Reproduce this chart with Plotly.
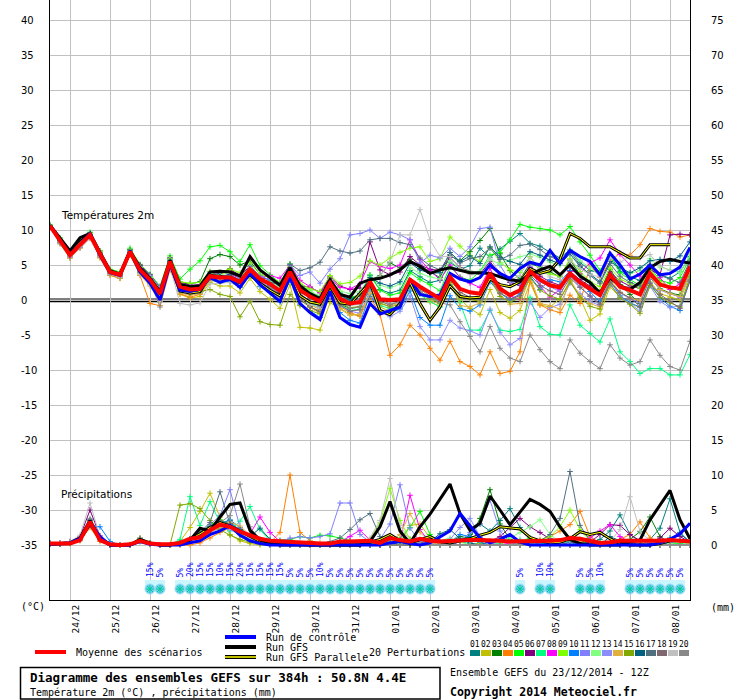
import pandas as pd
import plotly.graph_objects as go

# 6-hourly steps of the GEFS 23/12/2014 12Z run (0 .. 384h)
times = pd.date_range("2014-12-23 12:00", periods=65, freq="6h")

# --- 2m temperature (°C) ---
t_mean = [10.6, 8.5, 6.4, 7.9, 9.3, 6.6, 4.0, 3.6, 6.9, 4.3,
          2.9, 0.9, 5.5, 1.9, 1.5, 1.6, 3.4, 3.2, 3.2, 2.6,
          4.4, 3.0, 2.3, 1.3, 4.0, 1.4, 0.5, -0.2, 2.4, 0.2,
          -0.5, -0.3, 2.6, 0.1, 0.0, 0.1, 2.9, 1.9, 1.0, 0.2,
          3.3, 1.6, 1.1, 0.9, 3.8, 1.6, 0.7, 1.4, 4.1, 2.9,
          2.1, 1.8, 3.8, 2.5, 1.6, 0.7, 3.6, 1.9, 1.4, 0.8,
          3.8, 2.2, 1.8, 1.6, 4.8]
t_ctrl = [10.6, 8.6, 6.5, 8.0, 9.5, 6.4, 3.9, 3.5, 7.0, 4.0,
          2.4, 0.0, 5.2, 1.4, 1.2, 1.5, 3.2, 2.5, 3.0, 1.8,
          3.8, 2.2, 1.0, -0.2, 3.3, -0.5, -1.8, -2.8, 1.2, -2.5,
          -3.5, -3.9, -0.5, -2.0, -1.5, -1.0, 3.0, 0.8, 0.5, 0.7,
          3.8, 3.0, 2.6, 3.2, 5.0, 3.8, 3.1, 4.5, 5.4, 5.0,
          7.1, 5.2, 7.1, 6.2, 5.5, 3.6, 6.7, 5.0, 3.0, 3.7,
          5.0, 3.6, 3.8, 4.7, 7.5]
t_gfs = [10.7, 8.9, 7.0, 8.9, 9.5, 6.8, 4.2, 3.7, 7.0, 4.6,
         3.1, 1.2, 5.7, 2.2, 1.9, 2.0, 4.0, 4.1, 4.0, 3.4,
         6.2, 4.3, 3.2, 2.1, 4.6, 2.0, 0.9, 0.2, 2.9, 0.8,
         0.4, 2.4, 2.9, 3.1, 3.6, 4.3, 5.5, 4.8, 3.8, 4.3,
         4.6, 4.3, 3.9, 3.9, 3.8, 3.3, 2.9, 2.7, 3.6, 4.3,
         4.8, 3.6, 5.0, 3.4, 2.5, 1.0, 3.2, 2.0, 1.5, 2.5,
         4.6, 5.5, 5.8, 5.5, 5.3]
t_para = [10.6, 8.7, 6.6, 8.3, 9.4, 6.6, 4.0, 3.6, 6.9, 4.1,
          2.6, 0.5, 5.2, 1.3, 1.0, 1.2, 3.5, 3.4, 3.0, 2.5,
          3.6, 2.4, 1.4, 0.6, 3.8, 0.6, -0.3, -0.6, 2.0, -0.4,
          -0.6, 1.0, 2.5, -1.5, -2.1, -0.5, 2.5, -0.5, -2.9, -1.0,
          2.0, 0.5, 0.3, 0.4, 3.0, 2.2, 1.9, 2.6, 4.5, 3.8,
          4.2, 5.8, 9.5, 8.8, 7.6, 7.6, 7.6, 6.8, 6.0, 6.0,
          7.9, 7.9, 7.9, None, None]

t01 = [10.5, 8.4, 6.2, 7.6, 9.0, 6.3, 3.8, 3.4, 6.6, 4.6, 3.2, 1.5, 5.8, 2.4, 2.0, 2.2, 4.0, 3.8, 4.5, 3.3,
       4.9, 3.4, 2.8, 2.0, 4.5, 1.9, 1.0, 0.6, 3.1, 1.0, 0.3, 0.6, 3.5, 1.5, 1.0, 1.4, 4.2, 3.3, 2.5, 2.8,
       5.4, 4.4, 4.9, 7.4, 6.1, 7.3, 8.4, 9.5, 8.1, 7.7, 6.8, 6.0, 7.2, 5.4, 4.2, 3.9, 6.5, 4.1, 3.3, 2.8,
       5.1, 3.6, 3.1, 4.0, 6.2]
t02 = [10.4, 8.0, 6.0, 7.5, 9.1, 6.0, 3.6, 3.1, 6.4, 3.8, 2.2, 0.2, 4.7, 0.8, 0.3, 0.5, 2.5, 2.0, 2.0, 1.0,
       3.1, 1.2, 0.1, -1.2, 2.2, -3.9, -4.0, -4.3, -0.4, -1.2, -2.0, -2.3, 1.2, -1.0, -1.6, -1.2, 1.8, 0.9, -0.3, -0.9,
       2.0, 0.1, -1.2, -2.1, 1.5, -1.8, -2.6, -1.5, 2.5, -0.7, -1.0, 0.2, 2.8, 0.3, -2.9, -2.0, 1.9, 0.4, -0.5, -1.1,
       2.6, 0.9, 0.4, 0.0, 3.5]
t03 = [10.7, 8.7, 6.7, 8.3, 9.6, 7.0, 4.3, 3.8, 7.2, 4.9, 3.4, 1.4, 6.0, 2.5, 2.3, 2.6, 5.9, 6.5, 6.2, 5.0,
       5.6, 3.6, 1.9, 0.8, 3.3, 0.2, -0.9, -1.8, 1.6, -0.6, -1.2, -1.0, 2.8, 3.5, 5.3, 4.6, 5.8, 4.5, 4.0, 3.2,
       6.3, 5.6, 6.9, 8.5, 10.2, 6.6, 4.2, 3.0, 5.2, 4.7, 4.0, 3.3, 5.7, 3.7, 2.5, 1.2, 4.4, 2.2, 0.8, -0.5,
       3.2, 1.6, 1.0, 0.7, 4.0]
t04 = [10.3, 8.2, 6.0, 7.4, 8.8, 6.1, 3.5, 3.1, 6.5, 3.5, -0.5, -0.8, 4.3, 0.9, 0.4, 0.8, 2.9, 3.5, 4.4, 3.1,
       4.0, 2.4, 1.8, 0.8, 3.6, 1.1, -0.6, -1.4, 1.3, -0.9, -1.8, -2.3, 0.5, -2.1, -7.9, -6.4, -3.6, -5.0, -6.9, -8.6,
       -5.9, -8.8, -9.5, -10.7, -7.4, -10.5, -10.2, -7.4, 2.9, -0.7, -1.4, -1.8, 0.7, -0.5, 5.0, 3.2, 5.5, 6.7, 6.4, 7.9,
       10.2, 9.8, 9.7, 9.0, 9.3]
t05 = [10.8, 8.9, 6.9, 8.4, 9.7, 7.0, 4.4, 4.0, 7.4, 5.1, 3.7, 2.0, 6.3, 3.0, 4.4, 5.6, 7.6, 7.8, 6.9, 5.5,
       7.9, 4.9, 3.6, 2.4, 5.2, 2.2, 1.3, 0.4, 3.1, 0.9, 0.3, 0.8, 3.6, 1.4, 0.7, 1.0, 3.9, 2.9, 2.2, 1.3,
       4.8, 3.3, 2.8, 4.1, 6.4, 6.8, 8.6, 10.8, 10.4, 10.2, 10.0, 9.3, 10.5, 8.3, 6.4, 4.2, 6.2, 3.9, 2.9, 2.1,
       4.7, 2.8, 2.4, 3.2, 6.0]
t06 = [10.6, 8.6, 6.6, 8.1, 9.2, 6.7, 4.2, 3.8, 7.1, 5.0, 3.6, 1.8, 6.0, 2.6, 2.1, 2.2, 3.7, 3.9, 4.3, 3.6,
       4.8, 3.3, 2.9, 2.2, 4.6, 2.1, 1.8, 1.1, 3.3, 2.0, 1.5, 1.7, 8.3, 4.3, 3.6, 4.0, 6.2, 5.0, 4.4, 4.2,
       6.1, 4.6, 4.1, 3.7, 5.5, 3.6, 2.5, 2.1, 4.6, 3.4, 2.6, 2.1, 4.1, 2.9, 2.0, 0.9, 4.0, 2.7, 2.0, 1.7,
       4.3, 3.6, 9.3, 9.4, 9.3]
t07 = [10.5, 8.3, 6.3, 7.8, 9.1, 6.5, 3.9, 3.4, 6.8, 4.0, 2.6, 0.4, 5.0, 1.3, 1.0, 1.0, 2.8, 2.6, 2.8, 1.9,
       3.9, 2.4, 1.6, 0.4, 3.4, 0.6, -0.4, -1.2, 1.8, -0.6, -1.5, -1.3, 1.7, -0.8, -1.2, -0.9, 2.1, 0.8, -0.2, -1.0,
       2.2, -0.4, -4.3, -4.3, -1.5, -4.3, -4.5, -4.2, 0.4, -3.8, -4.9, -5.0, -0.7, -3.6, -4.8, -6.0, -2.7, -7.4, -8.8, -10.5,
       -9.8, -9.8, -10.7, -10.7, -7.8]
t08 = [10.6, 8.5, 6.5, 8.0, 9.4, 6.6, 4.1, 3.7, 7.0, 4.5, 3.1, 1.1, 5.6, 2.0, 1.6, 1.8, 3.5, 3.3, 3.7, 3.1,
       4.5, 3.2, 3.5, 3.1, 5.0, 2.8, 1.9, 1.0, 3.0, 1.8, 1.6, 2.3, 5.5, 4.8, 4.5, 5.0, 8.6, 5.8, 4.2, 2.9,
       5.0, 3.2, 2.4, 1.8, 4.5, 1.7, 0.6, 0.1, 4.6, 2.0, 0.4, 1.5, 4.2, 3.8, 5.3, 6.0, 8.6, 6.5, 5.0, 3.4,
       4.9, 3.2, 1.5, 2.3, 5.0]
t09 = [10.7, 8.8, 6.8, 8.2, 9.5, 6.8, 4.2, 3.9, 7.1, 4.7, 3.3, 1.6, 5.9, 2.6, 2.4, 2.5, 4.1, 4.0, 4.4, 3.9,
       5.3, 3.7, 3.2, 2.6, 4.8, 2.4, 1.6, 1.2, 3.5, 2.3, 2.5, 3.4, 5.6, 5.0, 6.0, 6.8, 7.4, 7.6, 5.5, 5.9,
       9.0, 7.7, 6.4, 5.5, 7.5, 5.4, 4.3, 3.9, 6.2, 4.3, 3.7, 3.4, 5.9, 4.1, 2.6, 1.9, 4.6, 3.0, 2.3, 1.7,
       4.4, 2.6, 1.9, 1.4, 4.6]
t10 = [10.5, 8.4, 6.3, 7.7, 9.2, 6.4, 3.9, 3.5, 6.8, 4.1, 2.7, 0.6, 5.3, 1.6, 1.3, 1.3, 3.0, 2.7, 2.6, 1.8,
       3.7, 1.9, 1.1, -0.3, 2.8, -0.6, -1.6, -2.5, 1.4, -1.8, -2.9, -3.3, 0.8, -1.5, -1.8, -1.3, 1.3, -2.5, -3.6, -3.6,
       0.6, -1.2, -1.6, -0.7, 2.6, 1.0, 0.0, 0.9, 3.4, 1.5, 2.9, 2.6, 4.2, 2.4, 1.2, -0.3, 2.8, 0.6, -0.4, -1.0,
       2.4, 0.3, -0.9, -1.5, 2.9]
t11 = [10.6, 8.6, 6.4, 7.9, 9.3, 6.7, 4.1, 3.7, 6.9, 4.8, 3.5, 1.9, 5.7, 2.2, 1.9, 2.1, 3.6, 3.5, 3.4, 3.0,
       4.8, 3.4, 2.9, 2.4, 5.0, 3.5, 4.0, 2.4, 4.4, 5.9, 9.3, 9.5, 10.0, 8.8, 9.7, 9.3, 8.6, 5.3, 6.4, 6.0,
       7.4, 6.2, 7.6, 10.2, 10.4, 5.0, 2.6, 2.2, 4.8, 2.6, 1.9, 1.2, 3.5, 1.9, 0.5, -0.7, 2.5, 1.0, 0.2, -0.4,
       3.3, 1.4, 0.9, 0.4, 3.9]
t12 = [10.7, 8.7, 6.6, 8.1, 9.4, 6.8, 4.2, 3.8, 7.0, 4.6, 3.2, 1.3, 5.7, 2.2, 1.8, 2.0, 3.8, 3.6, 3.9, 3.3,
       4.6, 3.1, 2.6, 1.8, 4.3, 2.0, 1.2, 0.5, 2.9, 1.3, 0.9, 1.2, 3.4, 2.1, 1.7, 2.3, 4.6, 3.8, 3.3, 3.0,
       5.6, 4.5, 4.1, 3.9, 5.8, 5.1, 5.7, 6.2, 6.6, 6.1, 5.4, 5.0, 7.2, 5.6, 4.6, 3.4, 6.3, 4.7, 3.8, 4.2,
       5.9, 4.7, 4.3, 3.9, 6.4]
t13 = [10.4, 8.1, 6.1, 7.5, 8.9, 6.2, 3.7, 3.3, 6.7, 3.9, 2.5, 0.3, 5.1, 1.2, 0.8, 1.1, 3.1, 3.0, 2.9, 2.3,
       4.2, 2.7, 1.9, 1.0, 3.6, 0.7, -0.3, -0.9, 2.0, -0.8, -1.6, -1.9, 1.3, -1.7, -2.4, -1.6, 0.6, -3.8, -5.7, -5.7,
       -2.9, -4.0, -4.4, -5.0, -1.3, -4.6, -6.4, -5.5, -0.3, -2.5, -1.1, -0.6, 2.4, 0.9, -0.2, -0.8, 2.2, 0.4, -0.5, -1.6,
       2.0, -0.2, -1.1, -0.8, 3.0]
t14 = [10.5, 8.3, 6.3, 7.8, 9.2, 6.5, 3.8, 3.3, 6.6, 3.6, 2.0, -0.3, 4.9, 1.0, 0.7, 0.9, 2.7, 2.9, 3.5, 2.4,
       4.0, 2.5, 1.4, 0.6, 3.2, 0.3, -1.1, -1.9, 1.1, -1.3, -2.2, -2.0, 1.0, -0.6, -0.8, -0.5, 2.4, 1.3, 0.0, -0.6,
       2.8, -0.8, -1.0, -0.4, 3.0, 0.9, -0.6, -0.5, 3.3, -0.5, -0.8, -1.3, 2.9, 0.6, -0.5, -1.0, 2.9, 1.1, 0.3, -0.1,
       3.4, 1.5, 0.9, 0.5, 4.1]
t15 = [10.6, 8.4, 6.3, 7.7, 9.0, 6.3, 3.7, 3.2, 6.5, 3.9, 2.4, 0.5, 5.0, 1.3, 0.9, 1.2, 1.5, 0.8, 0.5, -2.4,
       -0.2, -3.1, -3.5, -3.6, 0.8, -0.8, -1.5, -2.0, 1.5, -0.5, -1.1, -0.9, 2.0, -0.4, -1.0, -0.6, 2.3, 1.0, 0.2, -0.5,
       2.5, 0.7, 0.1, -0.2, 3.1, 0.5, -0.3, 0.3, 3.2, 1.4, 0.6, 0.1, 2.6, 0.4, -0.9, -1.3, 2.4, 0.3, -0.6, -1.9,
       2.1, 0.4, -0.4, -1.0, 3.3]
t16 = [10.5, 8.5, 6.5, 8.0, 9.3, 6.5, 4.0, 3.6, 6.8, 4.4, 3.0, 1.0, 5.5, 1.9, 1.6, 1.7, 3.4, 3.4, 3.6, 2.8,
       4.4, 3.0, 2.0, 1.1, 3.9, 1.3, 0.4, -0.1, 2.6, 0.6, 0.0, 0.9, 3.2, 2.4, 2.0, 2.6, 5.3, 4.3, 3.8, 3.9,
       6.8, 5.5, 6.3, 5.2, 7.6, 6.1, 5.5, 5.1, 6.9, 6.4, 5.7, 5.2, 6.6, 4.8, 3.7, 2.6, 5.5, 4.6, 3.9, 4.6,
       5.6, 5.8, 5.5, 6.3, 8.3]
t17 = [10.6, 8.6, 6.5, 8.0, 9.3, 6.7, 4.1, 3.7, 7.0, 4.4, 3.0, 1.1, 5.6, 2.1, 1.8, 1.9, 3.6, 3.4, 3.3, 2.8,
       4.5, 3.1, 2.5, 2.2, 5.1, 4.2, 4.6, 5.4, 7.6, 7.0, 6.7, 7.0, 8.6, 8.8, 8.8, 8.2, 7.9, 6.0, 4.9, 4.3,
       6.5, 5.3, 5.9, 6.2, 7.4, 5.8, 6.4, 7.8, 8.0, 7.2, 6.2, 5.6, 7.0, 5.0, 3.5, 2.4, 5.2, 3.4, 2.5, 2.0,
       4.9, 3.5, 3.0, 2.5, 5.6]
t18 = [10.4, 8.2, 6.2, 7.6, 9.0, 6.4, 3.8, 3.4, 6.7, 4.2, 2.8, 0.7, 5.3, 1.7, 1.2, 1.4, 3.2, 3.1, 3.0, 2.4,
       4.1, 2.6, 1.6, 0.2, 3.1, 0.0, -1.0, -1.6, 1.8, -0.7, -1.6, -1.4, 1.9, -0.2, -0.7, -0.2, 2.6, 1.6, 0.5, -0.1,
       2.9, 1.1, 0.4, 0.1, 3.2, 1.0, 0.2, 0.6, 3.6, 2.1, 1.3, 0.8, 3.2, 1.8, 0.6, -0.6, 2.6, 1.1, 0.3, -0.9,
       2.4, 0.8, -0.2, -1.2, 2.7]
t19 = [10.5, 8.3, 6.2, 7.6, 9.1, 6.3, 3.7, 3.2, 6.5, 3.7, 2.2, -0.2, 4.8, -0.5, -0.7, -0.4, 2.3, 2.4, 2.5, 1.9,
       3.8, 2.1, 1.5, 0.1, 3.3, 0.5, -0.6, -1.2, 2.2, -0.1, -0.8, -0.6, 2.6, 3.4, 5.5, 9.3, 9.3, 12.9, 8.6, 6.2,
       6.2, 4.4, 3.6, 3.9, 6.0, 3.8, 2.8, 3.5, 6.1, 4.5, 3.3, 2.9, 5.6, 4.5, 3.6, 3.3, 6.0, 5.4, 6.2, 6.0,
       6.5, 4.9, 4.2, 4.7, 6.9]
t20 = [10.5, 8.4, 6.3, 7.8, 9.2, 6.5, 3.9, 3.5, 6.8, 4.1, 2.7, -1.0, 5.2, 1.5, 1.1, 1.3, 3.1, 2.8, 2.9, 2.0,
       3.9, 2.5, 1.7, 0.7, 3.5, 0.9, -0.2, -0.9, 2.1, -0.3, -1.2, -1.0, 2.2, 0.2, -0.6, -0.3, 2.4, 1.2, 0.4, -0.4,
       -0.7, -3.1, -5.2, -7.4, -3.8, -6.9, -8.3, -8.8, -5.0, -7.1, -8.8, -9.8, -5.7, -7.6, -8.8, -9.8, -6.4, -8.3, -9.3, -8.8,
       -5.7, -7.9, -9.5, -10.0, -5.9]

# --- precipitation (mm / 6h) ---
r_mean = [0.2, 0.2, 0.2, 0.7, 3.3, 0.7, 0.1, 0.0, 0.1, 0.6, 0.2, 0.1, 0.1, 0.3, 0.9, 1.1, 2.1, 2.9, 2.6, 1.9,
          1.4, 0.9, 0.6, 0.5, 0.5, 0.3, 0.2, 0.2, 0.2, 0.5, 0.5, 0.5, 0.6, 0.3, 1.0, 0.7, 0.5, 0.9, 0.6, 0.5,
          0.6, 0.7, 0.7, 0.7, 0.7, 0.6, 0.5, 0.5, 0.6, 0.6, 0.6, 0.7, 1.0, 0.9, 0.6, 0.3, 0.4, 0.6, 0.6, 0.6,
          0.5, 0.6, 0.7, 0.6, 0.5]
r_ctrl = [0.1, 0.2, 0.3, 0.9, 3.2, 1.2, 0.0, 0.0, 0.0, 0.5, 0.1, 0.0, 0.0, 0.0, 0.3, 0.6, 1.5, 2.0, 2.8, 1.4,
          0.6, 0.2, 0.0, 0.0, 0.0, 0.0, 0.0, 0.0, 0.0, 0.0, 0.0, 0.0, 0.0, 0.0, 0.3, 0.5, 0.2, 0.0, 0.3, 1.2,
          2.0, 4.5, 2.8, 1.0, 0.3, 0.8, 1.5, 0.4, 0.0, 0.0, 0.0, 0.0, 0.0, 0.0, 0.0, 0.0, 0.0, 0.0, 0.0, 0.0,
          0.0, 0.3, 0.8, 1.6, 3.1]
r_gfs = [0.1, 0.2, 0.3, 1.0, 3.5, 1.0, 0.0, 0.0, 0.0, 0.8, 0.3, 0.0, 0.0, 0.2, 0.7, 2.4, 2.0, 4.0, 5.8, 6.0,
         2.1, 0.7, 0.3, 0.2, 0.1, 0.0, 0.0, 0.0, 0.0, 0.0, 0.0, 0.0, 0.5, 2.6, 6.2, 2.0, 0.2, 2.6, 4.4, 6.5,
         8.7, 4.5, 2.1, 3.1, 7.0, 5.0, 2.9, 4.7, 6.5, 5.8, 4.8, 2.6, 0.8, 0.2, 0.0, 0.0, 0.0, 0.0, 0.5, 0.7,
         3.6, 5.7, 7.8, 3.6, 0.9]
r_para = [0.1, 0.2, 0.2, 0.8, 3.0, 0.9, 0.0, 0.0, 0.0, 0.6, 0.2, 0.0, 0.0, 0.3, 0.8, 1.6, 2.5, 3.2, 2.7, 2.0,
          1.2, 0.5, 0.2, 0.0, 0.0, 0.0, 0.0, 0.0, 0.0, 0.0, 0.0, 0.0, 0.4, 0.8, 1.5, 0.6, 0.3, 0.8, 1.2, 0.5,
          0.3, 0.6, 0.9, 1.4, 1.8, 2.6, 2.5, 2.3, 1.1, 0.6, 0.3, 0.4, 0.9, 1.9, 1.5, 1.8, 0.9, 0.2, 0.0, 0.0,
          0.0, 0.2, 0.6, None, None]

r01 = [0.2, 0.2, 0.3, 0.8, 3.0, 0.9, 0.0, 0.0, 0.0, 0.8, 0.2, 0.0, 0.0, 0.2, 0.6, 1.2, 2.0, 3.1, 3.5, 2.0,
       1.0, 0.4, 0.1, 0.0, 0.0, 0.0, 0.0, 0.0, 0.0, 0.0, 0.0, 0.2, 0.5, 0.3, 0.0, 0.0, 0.0, 0.2, 0.6, 0.3,
       0.0, 0.5, 1.5, 3.0, 2.0, 3.5, 5.2, 2.5, 0.8, 0.3, 0.0, 0.0, 0.6, 0.5, 0.2, 0.8, 2.0, 4.3, 1.5, 0.5,
       0.8, 2.4, 6.6, 1.8, 0.3]
r02 = [0.1, 0.2, 0.4, 1.0, 3.5, 1.0, 0.0, 0.0, 0.1, 1.0, 0.3, 0.0, 0.0, 0.5, 2.5, 4.8, 7.4, 4.0, 1.5, 0.6,
       0.2, 0.0, 0.0, 0.0, 0.0, 0.0, 0.0, 0.0, 0.0, 0.0, 0.0, 0.0, 0.3, 0.6, 0.5, 0.2, 2.8, 3.0, 1.0, 0.2,
       0.0, 0.0, 0.0, 0.3, 0.5, 0.2, 0.0, 0.0, 0.0, 0.0, 0.0, 0.0, 0.4, 0.8, 0.3, 0.0, 0.0, 0.0, 0.5, 0.3,
       0.0, 0.0, 0.2, 0.5, 0.2]
r03 = [0.2, 0.2, 0.3, 0.9, 3.4, 1.0, 0.0, 0.0, 0.0, 0.7, 0.2, 0.0, 0.0, 0.2, 0.7, 1.4, 2.6, 3.4, 2.9, 1.8,
       0.9, 0.3, 0.0, 0.0, 0.0, 0.0, 0.0, 0.0, 0.0, 0.0, 0.0, 0.0, 0.2, 0.0, 0.0, 0.3, 0.8, 0.5, 0.2, 0.0,
       0.4, 1.2, 1.0, 3.8, 7.9, 3.0, 0.8, 0.2, 0.0, 0.0, 0.0, 0.0, 0.2, 0.6, 0.3, 0.0, 0.0, 0.2, 0.8, 1.9,
       4.0, 1.2, 0.3, 0.0, 0.0]
r04 = [0.1, 0.1, 0.2, 0.6, 2.5, 0.5, 0.0, 0.0, 0.0, 0.5, 0.1, 0.0, 0.0, 0.0, 0.0, 0.3, 1.0, 1.8, 2.5, 1.5,
       0.8, 0.4, 0.3, 1.8, 10.0, 1.8, 0.6, 0.3, 0.0, 0.0, 0.0, 0.0, 0.0, 0.0, 0.0, 0.0, 0.0, 0.0, 0.0, 0.0,
       0.0, 0.0, 0.0, 0.0, 0.0, 0.0, 0.0, 0.0, 0.3, 0.8, 1.2, 2.0, 2.9, 4.8, 1.2, 0.3, 0.0, 0.8, 1.5, 3.3,
       1.0, 0.3, 0.0, 0.0, 0.0]
r05 = [0.2, 0.2, 0.3, 0.8, 3.1, 0.8, 0.0, 0.0, 0.0, 0.9, 0.2, 0.0, 0.0, 0.3, 0.8, 1.8, 2.9, 3.6, 3.0, 2.2,
       1.4, 0.8, 0.5, 0.7, 0.8, 1.2, 1.0, 1.4, 1.3, 1.0, 0.6, 0.3, 0.2, 0.0, 0.4, 1.0, 2.5, 4.8, 1.5, 0.4,
       0.2, 0.6, 0.8, 0.3, 0.0, 0.0, 0.0, 0.5, 1.0, 0.4, 0.0, 0.0, 0.3, 0.2, 0.0, 0.0, 0.0, 0.0, 0.0, 0.0,
       0.0, 0.2, 0.4, 0.2, 0.0]
r06 = [0.2, 0.3, 0.5, 1.2, 5.0, 1.3, 0.0, 0.0, 0.0, 0.8, 0.2, 0.0, 0.0, 0.2, 0.6, 1.1, 2.2, 2.8, 2.4, 1.5,
       0.8, 0.3, 0.0, 0.0, 0.0, 0.0, 0.0, 0.0, 0.0, 0.0, 0.0, 0.0, 0.0, 0.2, 0.4, 0.2, 0.0, 0.0, 0.3, 0.5,
       0.3, 0.0, 0.0, 0.0, 0.5, 1.2, 2.5, 3.8, 2.6, 1.8, 0.9, 0.4, 0.2, 0.0, 0.4, 1.5, 2.9, 2.8, 1.5, 0.6,
       0.3, 1.0, 2.4, 1.2, 0.4]
r07 = [0.2, 0.2, 0.3, 0.8, 3.2, 0.9, 0.0, 0.0, 0.0, 0.6, 0.2, 0.0, 0.0, 0.8, 6.9, 2.8, 6.2, 3.2, 2.0, 3.4,
       5.5, 2.2, 0.6, 0.2, 0.0, 0.0, 0.0, 0.0, 0.0, 0.0, 0.0, 0.0, 0.0, 0.0, 0.3, 0.6, 0.2, 0.0, 0.0, 0.0,
       0.2, 0.5, 0.2, 0.0, 0.0, 0.3, 0.6, 0.8, 0.4, 0.2, 0.0, 0.0, 0.0, 0.3, 0.6, 0.3, 0.0, 0.0, 0.0, 0.0,
       0.0, 0.0, 0.2, 0.4, 0.2]
r08 = [0.2, 0.2, 0.3, 0.8, 3.3, 0.8, 0.0, 0.0, 0.0, 0.6, 0.1, 0.0, 0.0, 0.2, 0.6, 1.3, 2.4, 3.0, 2.6, 1.8,
       1.6, 4.0, 1.8, 0.5, 0.3, 0.2, 0.0, 0.0, 0.0, 0.4, 1.2, 2.1, 0.7, 0.2, 0.0, 0.5, 7.1, 2.2, 0.3, 0.0,
       0.0, 0.0, 0.0, 0.0, 0.0, 0.0, 0.3, 0.5, 0.2, 0.0, 0.0, 0.0, 0.3, 0.6, 1.0, 2.0, 2.9, 1.2, 0.4, 0.0,
       0.0, 0.0, 0.0, 0.0, 0.0]
r09 = [0.2, 0.2, 0.3, 0.9, 3.4, 0.9, 0.0, 0.0, 0.0, 0.7, 0.2, 0.0, 0.0, 0.2, 0.7, 1.5, 2.6, 3.3, 2.8, 1.9,
       1.0, 0.4, 0.1, 0.0, 0.0, 0.0, 0.0, 0.0, 0.0, 0.0, 0.0, 0.2, 0.8, 3.2, 8.1, 3.5, 0.8, 0.2, 0.0, 0.0,
       0.0, 0.0, 0.0, 0.0, 0.0, 0.0, 0.0, 0.0, 0.2, 0.5, 1.2, 2.6, 5.0, 2.2, 0.6, 0.0, 0.0, 0.0, 0.0, 0.0,
       0.0, 0.0, 0.0, 0.0, 0.0]
r10 = [0.2, 0.2, 0.3, 0.7, 2.8, 2.6, 0.5, 0.0, 0.0, 0.5, 0.1, 0.0, 0.0, 0.2, 0.7, 1.3, 2.2, 3.0, 3.6, 2.5,
       1.2, 0.5, 0.2, 0.0, 0.0, 0.0, 0.0, 0.0, 0.0, 0.0, 0.0, 0.0, 0.0, 0.0, 0.0, 0.3, 0.5, 0.2, 0.0, 0.0,
       0.4, 1.5, 1.2, 0.4, 0.0, 0.0, 0.0, 0.0, 0.0, 0.0, 0.2, 0.5, 0.3, 0.0, 0.0, 0.0, 0.0, 0.0, 0.0, 0.0,
       0.0, 0.0, 0.3, 0.6, 0.4]
r11 = [0.2, 0.2, 0.3, 0.8, 3.2, 0.8, 0.0, 0.0, 0.0, 0.7, 0.2, 0.0, 0.0, 0.2, 0.8, 1.6, 2.9, 4.2, 7.9, 2.5,
       0.8, 0.4, 0.3, 0.6, 1.0, 1.2, 1.0, 1.2, 1.6, 6.0, 6.0, 1.5, 0.4, 0.8, 3.0, 8.6, 2.4, 0.5, 0.2, 0.0,
       0.0, 0.5, 1.8, 3.0, 6.4, 2.0, 0.4, 0.0, 0.0, 0.0, 0.0, 0.0, 0.0, 0.0, 0.0, 0.0, 0.0, 0.0, 0.0, 0.0,
       0.0, 0.0, 0.0, 0.0, 0.0]
r12 = [0.2, 0.2, 0.3, 0.9, 3.3, 0.9, 0.0, 0.0, 0.0, 0.8, 0.2, 0.0, 0.0, 0.2, 0.7, 1.4, 2.3, 2.9, 2.5, 1.7,
       0.9, 0.3, 0.0, 0.0, 0.0, 0.0, 0.0, 0.0, 0.0, 0.0, 0.0, 0.0, 0.0, 0.3, 0.6, 0.2, 0.0, 0.0, 0.2, 0.6,
       1.0, 0.4, 0.0, 0.0, 0.0, 0.4, 1.0, 1.8, 2.6, 3.6, 1.5, 0.4, 0.2, 0.0, 0.0, 0.0, 0.0, 0.0, 0.0, 0.0,
       0.0, 0.0, 0.2, 0.4, 0.2]
r13 = [0.2, 0.2, 0.3, 0.8, 3.0, 0.7, 0.0, 0.0, 0.0, 0.6, 0.2, 0.0, 0.0, 0.2, 0.5, 1.0, 1.8, 2.4, 2.2, 1.5,
       0.7, 0.2, 0.0, 0.0, 0.0, 0.0, 0.0, 0.0, 0.0, 0.0, 0.0, 0.0, 0.0, 0.0, 0.0, 0.0, 0.2, 0.5, 0.3, 0.0,
       0.8, 2.5, 3.8, 1.2, 0.3, 0.0, 0.0, 0.0, 0.0, 0.0, 0.0, 0.0, 0.0, 0.0, 0.0, 0.0, 0.0, 0.0, 0.3, 0.6,
       0.3, 0.0, 0.0, 0.0, 0.0]
r14 = [0.2, 0.2, 0.3, 0.7, 2.9, 0.7, 0.0, 0.0, 0.0, 0.6, 0.1, 0.0, 0.0, 0.0, 0.3, 0.9, 1.8, 2.5, 3.3, 2.7,
       1.4, 0.5, 0.2, 0.0, 0.0, 0.0, 0.0, 0.0, 0.0, 0.0, 0.0, 0.0, 0.0, 0.2, 0.6, 1.5, 4.5, 1.8, 0.4, 0.0,
       0.0, 0.0, 0.0, 0.0, 0.0, 0.0, 0.0, 0.0, 0.0, 0.0, 0.2, 0.5, 1.0, 0.5, 0.0, 0.0, 0.0, 0.0, 0.0, 0.0,
       0.0, 0.0, 0.0, 0.0, 0.0]
r15 = [0.2, 0.2, 0.3, 0.8, 3.1, 0.8, 0.0, 0.0, 0.0, 0.7, 0.2, 0.0, 0.0, 5.7, 5.9, 5.2, 3.5, 2.2, 1.4, 0.8,
       0.4, 0.2, 0.0, 0.0, 0.0, 0.0, 0.0, 0.0, 0.0, 0.0, 0.0, 0.0, 0.0, 0.0, 0.0, 0.0, 0.0, 0.0, 0.0, 0.0,
       0.0, 0.0, 0.0, 0.0, 0.0, 0.0, 0.0, 0.0, 0.0, 0.0, 0.0, 0.0, 0.0, 0.0, 0.0, 0.0, 0.0, 0.0, 0.0, 0.0,
       0.0, 0.0, 0.0, 0.0, 0.0]
r16 = [0.2, 0.2, 0.3, 0.9, 3.6, 1.0, 0.0, 0.0, 0.0, 0.8, 0.2, 0.0, 0.0, 0.3, 0.9, 1.6, 2.6, 3.4, 3.0, 2.2,
       1.2, 2.4, 0.8, 0.2, 0.0, 0.0, 0.0, 0.0, 0.0, 0.0, 0.0, 0.0, 0.0, 0.0, 0.3, 0.6, 0.3, 0.0, 0.5, 1.6,
       2.2, 0.9, 0.3, 0.0, 0.0, 0.0, 0.0, 0.0, 0.0, 0.0, 0.0, 0.0, 0.0, 0.0, 0.0, 0.0, 1.2, 0.6, 0.2, 0.0,
       0.0, 0.4, 1.0, 1.6, 0.5]
r17 = [0.2, 0.2, 0.3, 0.8, 3.2, 0.8, 0.0, 0.0, 0.0, 0.7, 0.2, 0.0, 0.0, 0.2, 0.8, 1.8, 3.2, 7.6, 3.0, 1.6,
       0.8, 0.3, 0.0, 0.0, 0.0, 0.0, 0.0, 0.0, 0.5, 1.0, 2.2, 3.6, 4.5, 1.2, 0.3, 0.0, 0.0, 0.0, 0.0, 0.0,
       0.0, 0.0, 0.0, 0.0, 0.0, 0.0, 0.0, 0.0, 0.3, 0.6, 1.5, 3.8, 10.5, 2.8, 0.6, 0.0, 0.0, 0.0, 0.0, 0.0,
       0.0, 0.0, 0.0, 0.0, 0.0]
r18 = [0.2, 0.2, 0.3, 0.8, 3.5, 0.8, 0.0, 0.0, 0.0, 0.7, 0.2, 0.0, 0.0, 0.2, 0.6, 1.2, 2.2, 3.4, 3.0, 2.1,
       1.1, 0.4, 0.1, 0.0, 0.0, 0.0, 0.0, 0.0, 0.0, 0.0, 0.0, 0.0, 0.0, 0.0, 0.0, 0.0, 0.0, 0.3, 0.6, 0.3,
       0.0, 0.0, 0.0, 0.0, 0.0, 0.0, 0.0, 0.0, 0.0, 0.3, 0.6, 0.4, 0.0, 0.0, 0.0, 0.0, 0.0, 0.0, 0.0, 0.0,
       0.0, 0.0, 0.0, 0.0, 0.0]
r19 = [0.2, 0.3, 0.5, 1.4, 6.0, 1.2, 0.0, 0.0, 0.0, 0.6, 0.2, 0.0, 0.0, 0.2, 0.6, 1.2, 2.0, 2.8, 2.6, 1.8,
       0.9, 0.3, 0.0, 0.0, 0.0, 0.0, 0.0, 0.0, 0.0, 0.0, 0.0, 0.2, 1.0, 3.5, 9.5, 2.8, 0.6, 0.2, 0.0, 0.0,
       0.0, 0.0, 0.0, 0.0, 0.0, 0.0, 0.0, 0.0, 0.0, 0.0, 0.0, 0.0, 0.0, 0.0, 0.0, 0.0, 0.5, 2.2, 6.9, 2.0,
       0.5, 0.0, 0.0, 0.0, 0.0]
r20 = [0.2, 0.2, 0.3, 0.9, 3.8, 0.9, 0.0, 0.0, 0.0, 1.0, 0.2, 0.0, 0.0, 0.2, 0.7, 1.5, 2.5, 3.2, 4.2, 8.7,
       2.6, 0.6, 0.2, 0.0, 0.0, 0.0, 0.0, 0.0, 0.0, 0.0, 0.0, 0.0, 0.0, 0.0, 0.0, 0.0, 0.0, 0.0, 0.0, 0.0,
       0.0, 0.0, 0.0, 0.0, 0.0, 0.0, 0.0, 0.0, 0.0, 0.0, 0.0, 0.0, 0.0, 0.0, 0.0, 0.0, 0.0, 0.0, 0.0, 0.0,
       0.0, 0.0, 0.0, 0.0, 0.0]

member_colors = ["#008080", "#c0c000", "#008000", "#ff8000", "#00ff00",
                 "#800080", "#00ff80", "#ff00ff", "#80ff00", "#0080ff",
                 "#8080ff", "#80ff80", "#8c8cff", "#e0b040", "#80a800",
                 "#006080", "#507080", "#806870", "#c0c0c0", "#888888"]
member_labels = ["01", "02", "03", "04", "05", "06", "07", "08", "09", "10",
                 "11", "12", "13", "14", "15", "16", "17", "18", "19", "20"]

# snow probability (step index into times, percent)
snow_steps = [10, 11, 13, 14, 15, 16, 17, 18, 19, 20, 21, 22, 23, 24, 25, 26, 27, 28, 29, 30,
              31, 32, 33, 34, 35, 36, 37, 38, 47, 49, 50, 53, 54, 55, 58, 59, 60, 61, 62, 63]
snow_pct = [15, 5, 5, 20, 15, 15, 10, 15, 20, 15, 15, 15, 15, 5, 5, 5, 10, 5, 5, 5,
            5, 5, 5, 5, 5, 5, 5, 5, 5, 10, 10, 5, 5, 10, 5, 5, 5, 5, 5, 5]

temp_ticks = [-35, -30, -25, -20, -15, -10, -5, 0, 5, 10, 15, 20, 25, 30, 35, 40]
precip_ticks = [0, 5, 10, 15, 20, 25, 30, 35, 40, 45, 50, 55, 60, 65, 70, 75]

temps = [t01, t02, t03, t04, t05, t06, t07, t08, t09, t10,
         t11, t12, t13, t14, t15, t16, t17, t18, t19, t20]
precs = [r01, r02, r03, r04, r05, r06, r07, r08, r09, r10,
         r11, r12, r13, r14, r15, r16, r17, r18, r19, r20]

MONO = "DejaVu Sans Mono"
SANS = "DejaVu Sans"
HALF = 300 / 7  # plot spans +-HALF degC, 7 px per degree

# plot area in pixels: x 50..690, y 0..600
def px(x):
    return (x - 50) / 640


def py(y):
    return (600 - y) / 600


def deg(y):
    return (300 - y) / 7


fig = go.Figure()


def add_series(x, y, color, width, axis, markers=True):
    fig.add_trace(go.Scatter(
        x=x, y=y, yaxis=axis, mode="lines+markers" if markers else "lines",
        line=dict(color=color, width=width),
        marker=dict(symbol="cross-thin", size=4, line=dict(color=color, width=1)),
        hoverinfo="skip", showlegend=False))


for t, r, c in zip(temps, precs, member_colors):
    add_series(times, r, c, 1, "y2")
    add_series(times, t, c, 1, "y")

for y, axis in [(r_para, "y2"), (t_para, "y")]:
    add_series(times, y, "black", 3, axis, markers=False)
    add_series(times, y, "#ffff00", 1, axis, markers=False)
for y, axis in [(r_gfs, "y2"), (t_gfs, "y")]:
    add_series(times, y, "black", 3, axis, markers=False)
for y, axis in [(r_ctrl, "y2"), (t_ctrl, "y")]:
    add_series(times, y, "#0000ff", 3, axis, markers=False)
for y, axis in [(r_mean, "y2"), (t_mean, "y")]:
    add_series(times, y, "#ff0000", 4, axis, markers=False)

# snow row
snow_x = [times[i] for i in snow_steps]
fig.add_trace(go.Scatter(x=snow_x, y=[deg(585)] * len(snow_x), mode="markers",
                         marker=dict(symbol="square", size=10, color="#ccf6ff"),
                         hoverinfo="skip", showlegend=False))
fig.add_trace(go.Scatter(x=snow_x, y=[deg(589)] * len(snow_x), mode="markers",
                         marker=dict(symbol="circle", size=10, color="#70cff2",
                                     line=dict(color="#9cdcf8", width=1)),
                         hoverinfo="skip", showlegend=False))
fig.add_trace(go.Scatter(x=snow_x, y=[deg(589)] * len(snow_x), mode="markers",
                         marker=dict(symbol="asterisk-open", size=7,
                                     line=dict(color="#4a90e0", width=1)),
                         hoverinfo="skip", showlegend=False))

ann = []
for xs, p in zip(snow_x, snow_pct):
    ann.append(dict(x=xs, y=deg(579.5), xref="x", yref="y", text=f"{p}%",
                    textangle=-90, showarrow=False, yanchor="bottom", xanchor="center",
                    font=dict(family=MONO, size=8, color="#0000ff")))

for v in temp_ticks:
    ann.append(dict(x=px(19), y=v, xref="paper", yref="y", text=str(v), showarrow=False,
                    xanchor="left", yanchor="middle", font=dict(family=SANS, size=10, color="black")))
for v in precip_ticks:
    ann.append(dict(x=px(709), y=v, xref="paper", yref="y2", text=str(v), showarrow=False,
                    xanchor="left", yanchor="middle", font=dict(family=SANS, size=10, color="black")))


def label(x, y, text, size=10, family=MONO):
    ann.append(dict(x=px(x), y=py(y), xref="paper", yref="paper", text=text, showarrow=False,
                    xanchor="left", yanchor="middle", font=dict(family=family, size=size, color="black")))


label(19, 606, "(°C)")
label(709, 607, "(mm)")
label(59, 215, "Températures 2m", 10.5, SANS)
label(59, 494, "Précipitations", 10.5, SANS)
label(74, 652, "Moyenne des scénarios")
label(264, 637, "Run de contrôle")
label(264, 647, "Run GFS")
label(264, 657, "Run GFS Parallele")
label(367, 652, "20 Perturbations")
label(28, 677, "<b>Diagramme des ensembles GEFS sur 384h : 50.8N 4.4E</b>", 12.5)
label(28, 692, "Température 2m (°C) , précipitations (mm)")
label(448, 672, "Ensemble GEFS du 23/12/2014 - 12Z")
label(448, 692, "<b>Copyright 2014 Meteociel.fr</b>", 11.5)

shapes = []
# double zero line
for yv in (deg(299), deg(301.6)):
    shapes.append(dict(type="line", xref="paper", yref="y", x0=0, x1=1, y0=yv, y1=yv,
                       line=dict(color="black", width=1.2), layer="below"))


def hline(x0, x1, y, color, width):
    shapes.append(dict(type="line", xref="paper", yref="paper", x0=px(x0), x1=px(x1),
                       y0=py(y), y1=py(y), line=dict(color=color, width=width)))


hline(35, 66, 652, "#ff0000", 4)
hline(225, 256, 637, "#0000ff", 4)
hline(225, 256, 647, "black", 4)
hline(225, 256, 657, "black", 4)
hline(225, 256, 657, "#ffff00", 1.5)

for k, (c, lab) in enumerate(zip(member_colors, member_labels)):
    x0 = 470 + 11 * k
    shapes.append(dict(type="rect", xref="paper", yref="paper", x0=px(x0), x1=px(x0 + 10),
                       y0=py(656), y1=py(650), fillcolor=c, line=dict(width=0)))
    ann.append(dict(x=px(x0 + 5), y=py(644), xref="paper", yref="paper", text=lab,
                    showarrow=False, xanchor="center", yanchor="middle",
                    font=dict(family=MONO, size=8, color="black")))

shapes.append(dict(type="rect", xref="paper", yref="paper", x0=px(20.5), x1=px(440),
                   y0=py(699), y1=py(667.5), line=dict(color="black", width=1.5)))

fig.update_layout(
    width=740, height=700,
    margin=dict(l=50, r=50, t=0, b=100),
    paper_bgcolor="white", plot_bgcolor="white",
    showlegend=False,
    xaxis=dict(type="date", range=[times[0], times[-1]], tick0="2014-12-24", dtick=86400000,
               tickformat="%d/%m", tickangle=-90, ticks="",
               showgrid=True, gridcolor="#c0c0c0",
               gridwidth=1, showline=True, linecolor="black", linewidth=1, zeroline=False,
               tickfont=dict(family=MONO, size=9.5, color="black"), ticklabelshift=6,
               ticklabelstandoff=0),
    yaxis=dict(range=[-HALF, HALF], tickvals=temp_ticks, showticklabels=False, ticks="",
               showgrid=True, gridcolor="#c0c0c0", gridwidth=1, zeroline=False,
               showline=True, mirror=True, linecolor="black", linewidth=1),
    yaxis2=dict(range=[35 - HALF, 35 + HALF], overlaying="y", side="right", showgrid=False,
                showticklabels=False, ticks="", zeroline=False, showline=False),
    annotations=ann,
    shapes=shapes,
)

fig.write_html("out.html", config={"displayModeBar": False},
               post_script="document.body.style.margin='0';")
